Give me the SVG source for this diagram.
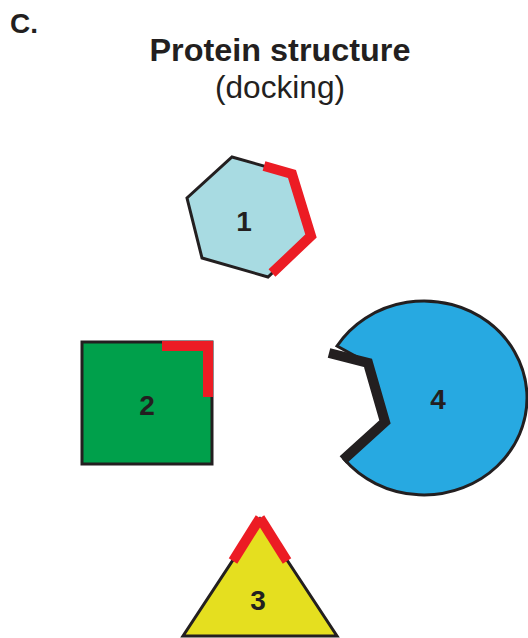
<svg xmlns="http://www.w3.org/2000/svg" width="528" height="638" viewBox="0 0 528 638">
<style>
.t{font-family:"Liberation Sans",Arial,sans-serif;fill:#231f20;text-anchor:middle}
.b{font-weight:bold}
.lbl{font-family:"Liberation Sans",Arial,sans-serif;font-weight:bold;font-size:28px;fill:#231f20;text-anchor:middle}
.ol{stroke:#231f20;stroke-width:3;stroke-linejoin:miter}
.red{fill:none;stroke:#ec1c24;stroke-width:10;stroke-linejoin:miter;stroke-linecap:butt}
</style>
<rect width="528" height="638" fill="#ffffff"/>
<g id="title">
<text class="t b" x="10" y="33" style="text-anchor:start;font-size:28px">C.</text>
<text class="t b" x="280" y="61" style="font-size:31px" textLength="261" lengthAdjust="spacingAndGlyphs">Protein structure</text>
<text class="t" x="280" y="98" style="font-size:31px" textLength="130" lengthAdjust="spacingAndGlyphs">(docking)</text>
</g>
<g id="node1">
<polygon class="ol" fill="#a8dbe2" points="232,157 292,174 311,236 268,277 202,258 187,198"/>
<polyline class="red" points="264,166 292,174 311,236 272,273"/>
<text class="lbl" x="244" y="231">1</text>
</g>
<g id="node2">
<rect class="ol" fill="#00a04b" x="82" y="342" width="130" height="122"/>
<polyline class="red" points="162,346 208,346 208,397"/>
<text class="lbl" x="147" y="415">2</text>
</g>
<g id="node4">
<path class="ol" fill="#27a9e1" d="M337,346 A103,97 0 1 1 344,459 L385,422 L368,363 Z"/>
<polyline fill="none" stroke="#231f20" stroke-width="10" stroke-linejoin="miter" points="329,353 368,363 385,422 343,460"/>
<text class="lbl" x="438" y="409">4</text>
</g>
<g id="node3">
<polygon class="ol" fill="#e5df1f" points="260,519 337,636 183,636"/>
<line class="red" x1="233" y1="561" x2="260" y2="518"/>
<line class="red" x1="287" y1="561" x2="260" y2="518"/>
<text class="lbl" x="258" y="610">3</text>
</g>
<g id="connectors"/>
</svg>
